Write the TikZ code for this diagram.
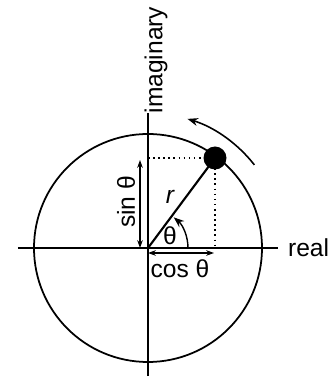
\documentclass[tikz,border=0pt]{standalone}
\usepackage{fontspec}
\setmainfont{Liberation Sans}
\usetikzlibrary{arrows.meta,positioning,calc}
\tikzset{
  axisline/.style={line width=0.9pt},
  dotline/.style={dotted, line width=0.9pt},
  arr/.style={-{Stealth[length=6pt,width=4.5pt]}, line width=0.9pt},
  darr/.style={{Stealth[length=4.5pt,width=3.2pt]}-{Stealth[length=4.5pt,width=3.2pt]}, line width=0.7pt},
  ball/.style={circle, fill=black, minimum size=0.46cm, inner sep=0pt},
  lbl/.style={font=\fontsize{14}{16}\selectfont, inner sep=1pt}
}

\begin{document}
\begin{tikzpicture}[x=0.02cm, y=0.02cm]
  \useasboundingbox (-148,-130) rectangle (186,248);

  \coordinate (O) at (0,0);
  \coordinate (xl) at (-130,0);
  \coordinate (xr) at (130,0);
  \coordinate (yb) at (0,-128);
  \coordinate (yt) at (0,135);

  % unit circle and axes
  \draw[line width=1pt] (O) circle[radius=114];
  \draw[axisline] (xl) -- (xr);
  \draw[axisline] (yb) -- (yt);

  \node[lbl, anchor=west] (real) at (138,0) {real};
  \node[lbl, rotate=90] (imag) at (8,188) {imaginary};

  % rotating point
  \node[ball] (ball) at (67,90) {};
  \coordinate (px) at (67,0);
  \coordinate (py) at (0,90);

  \draw[dotline] (py) -- (ball.center);
  \draw[dotline] (ball.center) -- (px);
  \draw[line width=1.2pt] (O) -- (ball.center);
  \node[lbl, font=\fontsize{14}{16}\selectfont\itshape] (r) at (22,51) {r};

  % angle theta
  \draw[arr, line width=0.8pt] (40,0) arc[start angle=0, end angle=50, radius=40];
  \node[lbl] (theta) at (22,12) {θ};

  % projections
  \coordinate (s0) at (-8,0);
  \coordinate (s1) at (-8,88);
  \draw[darr] (s0) -- (s1);
  \node[lbl, rotate=90] (sin) at (-22,46) {sin θ};

  \coordinate (c0) at (0,-5);
  \coordinate (c1) at (66,-5);
  \draw[darr] (c0) -- (c1);
  \node[lbl] (cos) at (32,-21) {cos θ};

  % direction of rotation
  \draw[arr] (38:135) arc[start angle=38, end angle=73, radius=135];
\end{tikzpicture}
\end{document}
